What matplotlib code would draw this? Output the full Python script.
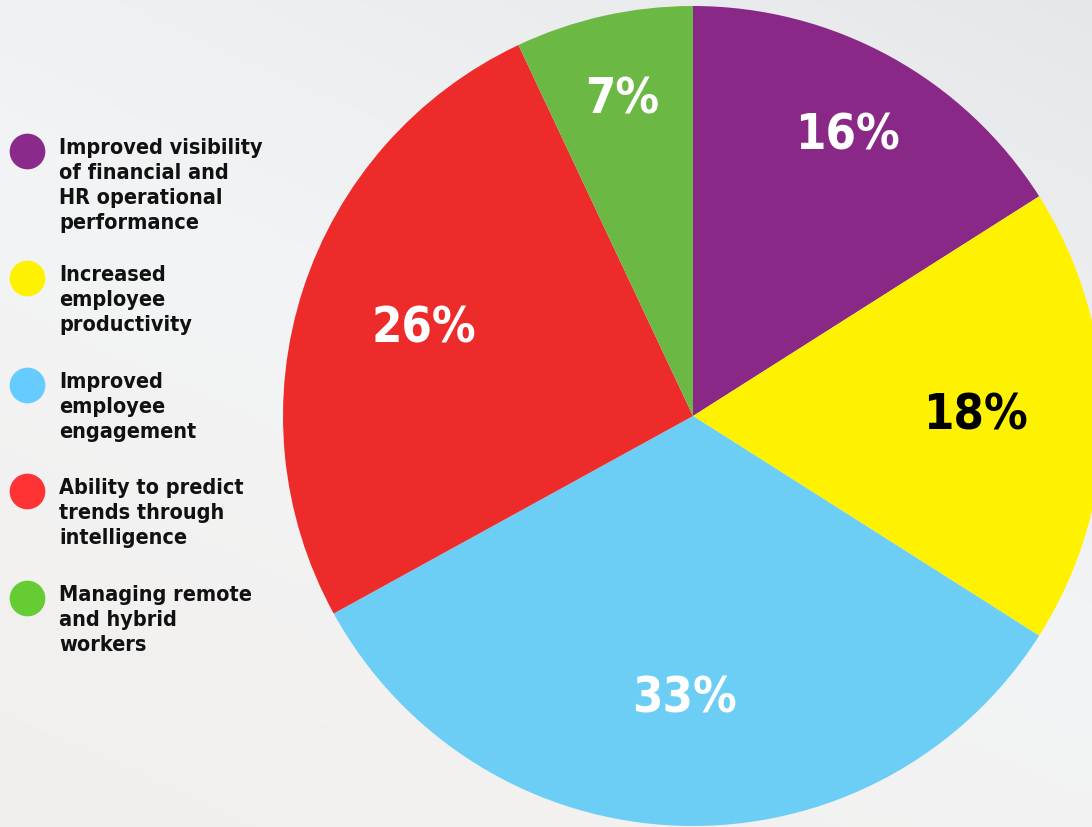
import matplotlib.pyplot as plt
import numpy as np
from matplotlib.colors import LinearSegmentedColormap

W, H = 1092, 827

categories = ['Improved visibility\nof financial and\nHR operational\nperformance',
              'Increased\nemployee\nproductivity',
              'Improved\nemployee\nengagement',
              'Ability to predict\ntrends through\nintelligence',
              'Managing remote\nand hybrid\nworkers']
shares = [16, 18, 33, 26, 7]
pie_colors = ['#8A2887', '#FFF200', '#6DCEF5', '#EE2B2B', '#6BB944']
dot_colors = ['#8A2A8A', '#FFF200', '#66CCFF', '#FF3333', '#66CC33']
label_colors = ['white', 'black', 'white', 'white', 'white']
label_dist = [0.78, 0.69, 0.69, 0.69, 0.79]   # radial position of the % labels

fig = plt.figure(figsize=(W/100, H/100), dpi=100)
ax = fig.add_axes([0, 0, 1, 1])

# soft blurred background
bg = LinearSegmentedColormap.from_list('bg', ['#e2e5e8', '#f3f4f5', '#f1eeeb'])
yy, xx = np.mgrid[0:1:200j, 0:1:200j]
ax.imshow(0.5*yy + 0.3*(1-xx) + 0.1, cmap=bg, extent=(0, W, 0, H), origin='upper',
          vmin=0, vmax=1, aspect='auto', zorder=0)

cx, cy, r = 693, H - 416, 410
wedges, _ = ax.pie(shares, colors=pie_colors, startangle=90, counterclock=False,
                   center=(cx, cy), radius=r, wedgeprops=dict(linewidth=0))
for w in wedges:
    w.set_zorder(1)

for w, s, c, d in zip(wedges, shares, label_colors, label_dist):
    mid = np.deg2rad((w.theta1 + w.theta2) / 2)
    ax.text(cx + d*r*np.cos(mid), cy + d*r*np.sin(mid), f'{s}%', color=c,
            fontsize=35, fontweight='bold', fontstretch='condensed',
            ha='center', va='center', zorder=3)

# legend
leg_top = [151, 278, 385, 491, 598]
for y, col, lab in zip(leg_top, dot_colors, categories):
    ax.scatter([27], [H - y], s=660, color=col, linewidths=0, zorder=3)
    ax.text(59, H - y + 13, lab, fontsize=15.5, fontweight='bold', fontstretch='condensed',
            color='#111111', ha='left', va='top', linespacing=1.31, zorder=3)

ax.set_xlim(0, W)
ax.set_ylim(0, H)
ax.set_aspect('auto')
ax.axis('off')

fig.savefig('out.png', dpi=100)
